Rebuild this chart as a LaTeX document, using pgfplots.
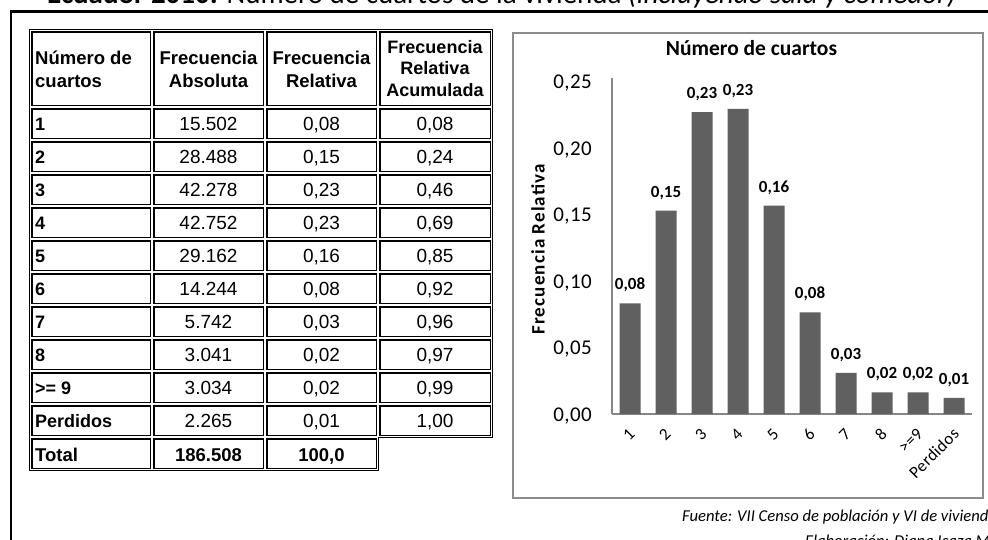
\documentclass[border=0pt]{standalone}
\usepackage{fontspec}
\setmainfont{Carlito}
\newfontfamily\arial{Liberation Sans}
\usepackage{pgfplots}
\pgfplotsset{compat=1.18}
\definecolor{barfill}{HTML}{606060}
\definecolor{axisgray}{HTML}{878787}
\definecolor{framegray}{HTML}{8C8C8C}

\begin{document}
\begin{tikzpicture}
\path[use as bounding box, clip] (0pt,0pt) rectangle (988pt,-539pt);

\begin{scope}[x=1pt,y=-1pt]
% page title, cut by the top edge
\node[anchor=base west, inner sep=0pt, font=\fontsize{29}{33}\selectfont] at (47,3.5)
  {\textbf{Ecuador 2010:} Número de cuartos de la vivienda \textit{(incluyendo sala y comedor)}};
% frame
\draw[line width=2.5pt] (11,545) -- (11,11.3) -- (995,11.3);
% chart area
\draw[framegray, line width=2pt, fill=white] (513,33) rectangle (983,498);

% table cells
\foreach \xa/\xb in {30/152,152/265,265/378,378/492}
  \foreach \ya/\yb in {30/107,107/140,140/173,173/206,206/239,239/272,272/305,305/338,338/371,371/404,404/437}
    \draw[line width=1.8pt] (\xa+1.6,\ya+1.6) rectangle (\xb-1.6,\yb-1.6);
\foreach \xa/\xb in {30/152,152/265,265/378}
  \draw[line width=1.8pt] (\xa+1.6,438.6) rectangle (\xb-1.6,468.4);
\draw[line width=1.3pt] (29.3,29.3) -- (492.7,29.3) -- (492.7,437.7) -- (378.7,437.7)
  -- (378.7,470.7) -- (29.3,470.7) -- cycle;

% header
\begin{scope}[every node/.style={inner sep=0pt, anchor=base, font=\arial\bfseries\fontsize{18.5}{22}\selectfont}]
\node[anchor=base west] at (35,64) {Número de};
\node[anchor=base west] at (35,87) {cuartos};
\node at (208.5,64) {Frecuencia};
\node at (208.5,87) {Absoluta};
\node at (321.5,64) {Frecuencia};
\node at (321.5,87) {Relativa};
\node[font=\arial\bfseries\fontsize{18}{22}\selectfont] at (435,53) {Frecuencia};
\node[font=\arial\bfseries\fontsize{18}{22}\selectfont] at (435,74.5) {Relativa};
\node[font=\arial\bfseries\fontsize{18}{22}\selectfont] at (435,96) {Acumulada};
\end{scope}

% rows
\foreach \k/\a/\b/\c/\d in {1/1/15.502/{0,08}/{0,08}, 2/2/28.488/{0,15}/{0,24},
    3/3/42.278/{0,23}/{0,46}, 4/4/42.752/{0,23}/{0,69}, 5/5/29.162/{0,16}/{0,85},
    6/6/14.244/{0,08}/{0,92}, 7/7/5.742/{0,03}/{0,96}, 8/8/3.041/{0,02}/{0,97},
    9/{>= 9}/3.034/{0,02}/{0,99}, 10/Perdidos/2.265/{0,01}/{1,00}} {
  \pgfmathsetmacro\yb{107+33*\k-10}
  \node[inner sep=0pt, anchor=base west, font=\arial\bfseries\fontsize{18}{22}\selectfont] at (35,\yb) {\a};
  \node[inner sep=0pt, anchor=base, font=\arial\fontsize{19}{22}\selectfont] at (208.5,\yb) {\b};
  \node[inner sep=0pt, anchor=base, font=\arial\fontsize{19}{22}\selectfont] at (321.5,\yb) {\c};
  \node[inner sep=0pt, anchor=base, font=\arial\fontsize{19}{22}\selectfont] at (435,\yb) {\d};
}
\begin{scope}[every node/.style={inner sep=0pt, anchor=base, font=\arial\bfseries\fontsize{18.5}{22}\selectfont}]
\node[anchor=base west] at (35,461) {Total};
\node at (208.5,461) {186.508};
\node at (321.5,461) {100,0};
\end{scope}

% source lines, cut by the edges
\node[anchor=base west, inner sep=0pt, font=\itshape\fontsize{16.6}{19}\selectfont] at (682,521)
  {Fuente: VII Censo de población y VI de vivienda 2010};
\node[anchor=base west, inner sep=0pt, font=\itshape\fontsize{16.6}{19}\selectfont] at (805,546)
  {Elaboración: Diana Icaza M.};
\end{scope}

\begin{axis}[
  at={(612pt,-414pt)}, anchor=south west,
  scale only axis, width=360pt, height=336pt,
  ybar, bar width=21pt,
  xmin=-0.5, xmax=9.5, ymin=0, ymax=0.2523,
  clip=false,
  axis x line*=bottom, axis y line*=left,
  axis line style={draw=axisgray, line width=1.5pt, -},
  major tick length=0pt,
  xtick=data,
  xticklabels={1,2,3,4,5,6,7,8,>=9,Perdidos},
  ytick={0,0.05,0.1,0.15,0.2,0.25},
  /pgf/number format/fixed,
  /pgf/number format/fixed zerofill,
  /pgf/number format/precision=2,
  /pgf/number format/use comma,
  /pgf/number format/assume math mode=true,
  yticklabel style={anchor=east, inner sep=0pt, xshift=-20pt, yshift=-2pt,
    font=\addfontfeatures{LetterSpace=2}\fontsize{21}{24}\selectfont},
  xticklabel style={yshift=-17pt, xshift=2pt, rotate=45, anchor=east, inner sep=0pt,
    font=\addfontfeatures{LetterSpace=2}\fontsize{17}{20}\selectfont},
  title={Número de cuartos},
  title style={at={(axis description cs:0.3875,1.0506)}, anchor=base, yshift=0pt, inner sep=0pt,
    font=\bfseries\fontsize{21.5}{24}\selectfont},
  ylabel={Frecuencia Relativa},
  ylabel style={at={(axis description cs:-0.2056,0.49)}, anchor=center, inner sep=0pt,
    font=\bfseries\addfontfeatures{LetterSpace=6}\fontsize{19}{22}\selectfont},
  nodes near coords,
  every node near coord/.append style={anchor=south, inner sep=0pt, yshift=11pt,
    font=\bfseries\fontsize{17}{20}\selectfont},
]
\addplot[fill=barfill, draw=none] coordinates {
  (0,0.0831) (1,0.1527) (2,0.2267) (3,0.2292) (4,0.1564)
  (5,0.0764) (6,0.0308) (7,0.0163) (8,0.0163) (9,0.0121)};
\end{axis}
\end{tikzpicture}
\end{document}
